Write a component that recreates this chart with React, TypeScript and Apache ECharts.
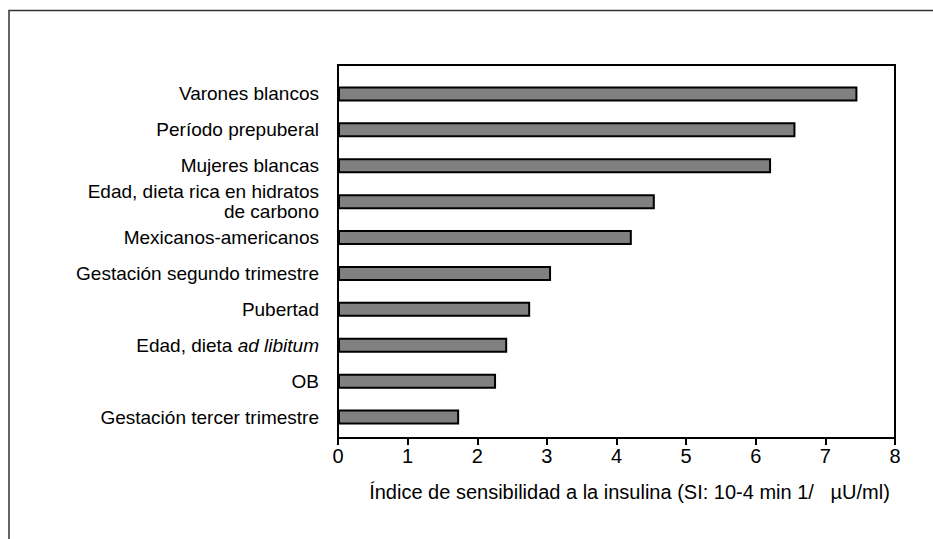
import React, { useEffect, useRef } from "react";
import * as echarts from "echarts";

const categories = [
  "Varones blancos",
  "Período prepuberal",
  "Mujeres blancas",
  "Edad, dieta rica en hidratos\nde carbono",
  "Mexicanos-americanos",
  "Gestación segundo trimestre",
  "Pubertad",
  "Edad, dieta {i|ad libitum}",
  "OB",
  "Gestación tercer trimestre",
];

const values = [7.46, 6.57, 6.22, 4.55, 4.22, 3.06, 2.76, 2.43, 2.27, 1.74];

const xTicks = { min: 0, max: 8, interval: 1 };

const xAxisName = "Índice de sensibilidad a la insulina (SI: 10-4 min 1/   µU/ml)";

const FONT = "'Liberation Sans', Arial, Helvetica, sans-serif";

export default function App() {
  const ref = useRef<HTMLDivElement>(null);

  useEffect(() => {
    if (!ref.current) return;
    const chart = echarts.init(ref.current, undefined, { renderer: "svg" });
    const option = {
      animation: false,
      backgroundColor: "#ffffff",
      textStyle: { fontFamily: FONT },
      grid: { left: 338, right: 38, top: 76, bottom: 104, containLabel: false },
      xAxis: {
        type: "value",
        min: xTicks.min,
        max: xTicks.max,
        interval: xTicks.interval,
        offset: 3,
        name: xAxisName,
        nameLocation: "middle",
        nameGap: 44,
        nameTextStyle: {
          fontSize: 20,
          color: "#000",
          fontFamily: FONT,
          padding: [0, 0, 0, 26],
        },
        axisLine: { show: true, lineStyle: { color: "#000", width: 2 } },
        axisTick: { show: true, length: 7, lineStyle: { color: "#000", width: 2 } },
        axisLabel: { fontSize: 20, color: "#000", margin: 8, fontFamily: FONT },
        splitLine: { show: false },
      },
      yAxis: {
        type: "category",
        data: categories,
        inverse: true,
        axisLine: { show: false },
        axisTick: { show: false },
        axisLabel: {
          fontSize: 19,
          color: "#000",
          margin: 19,
          align: "right",
          lineHeight: 20,
          fontFamily: FONT,
          rich: {
            i: { fontStyle: "italic", fontSize: 19, color: "#000", fontFamily: FONT },
          },
        },
      },
      series: [
        {
          type: "bar",
          data: values,
          barWidth: 15,
          itemStyle: { color: "#808080", borderColor: "#000", borderWidth: 2 },
        },
      ],
      graphic: [
        {
          type: "polyline",
          shape: { points: [[9, 539], [9, 10.5], [933, 10.5]] },
          style: { stroke: "#333", lineWidth: 1.5, fill: "none" },
          silent: true,
        },
        {
          type: "rect",
          shape: { x: 338, y: 65, width: 557, height: 373 },
          style: { stroke: "#000", lineWidth: 2, fill: "none" },
          silent: true,
          z: 10,
        },
      ],
    };
    chart.setOption(option as any);
    return () => chart.dispose();
  }, []);

  return (
    <div
      ref={ref}
      style={{ position: "fixed", left: 0, top: 0, width: 933, height: 539 }}
    />
  );
}
